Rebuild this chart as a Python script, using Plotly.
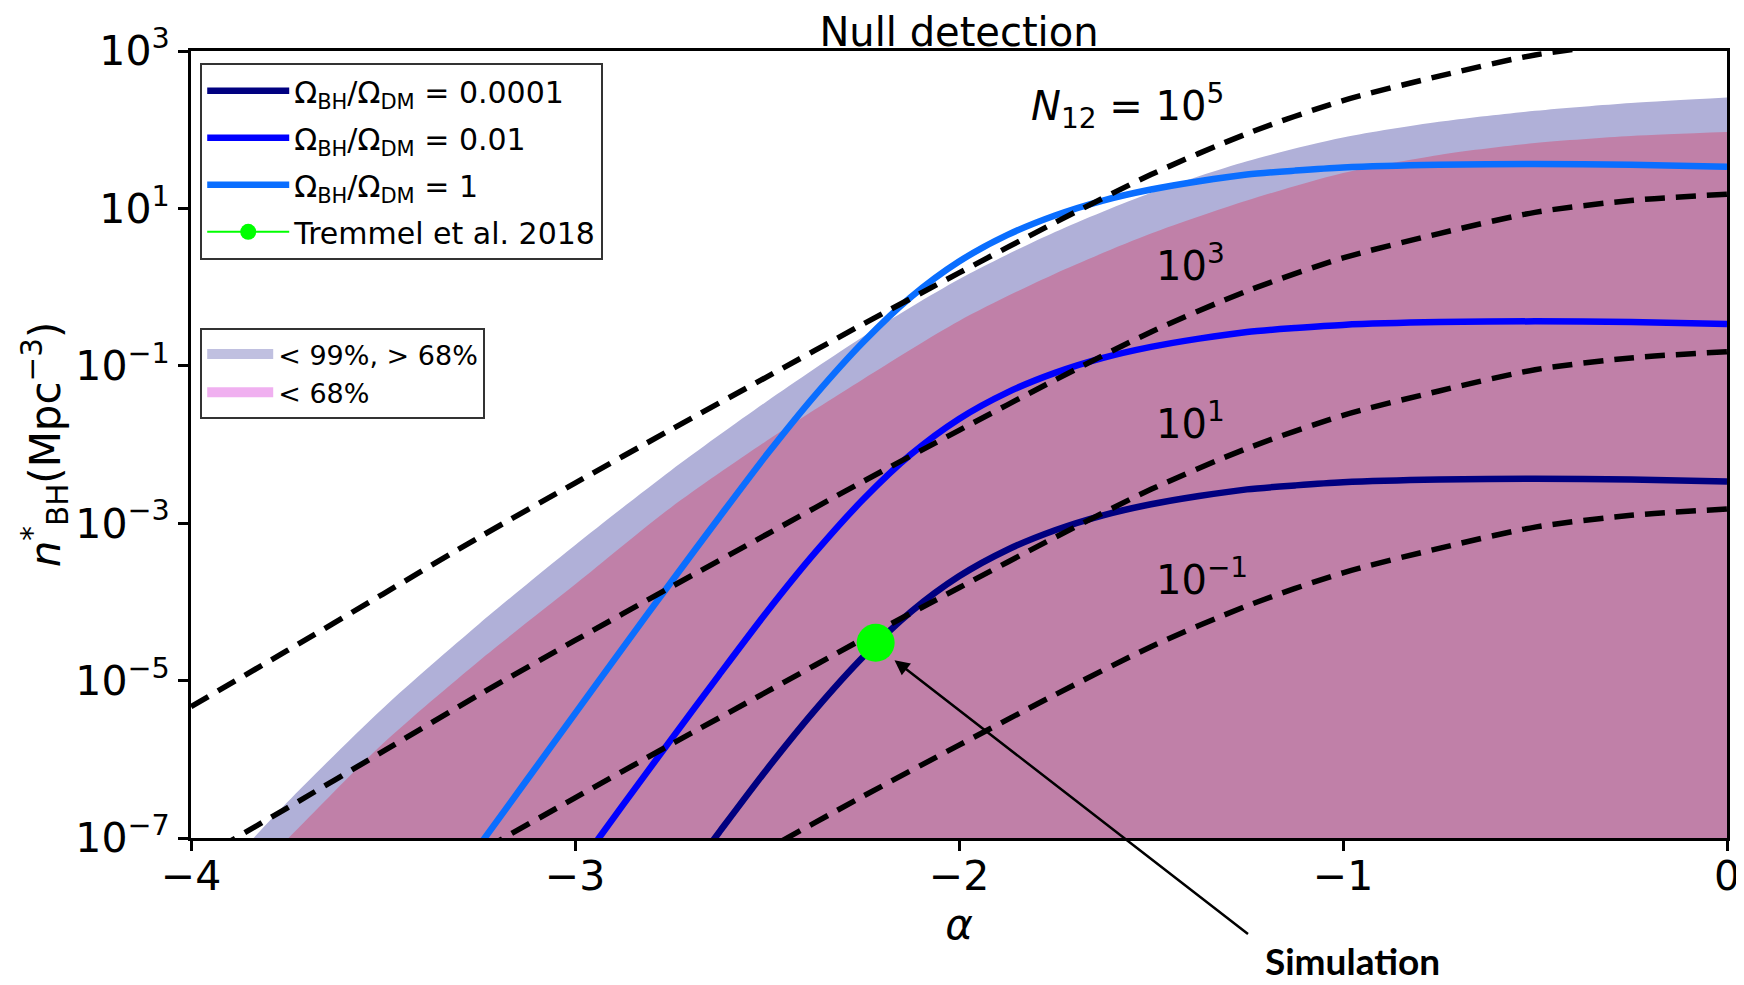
import plotly.graph_objects as go

FONT = "DejaVu Sans"

# ---------------- data (y values are log10 n*_BH) -------------
alpha_grid = [-4.0, -3.75, -3.5, -3.25, -3.0, -2.75, -2.5, -2.25, -2.0, -1.75,
              -1.5, -1.25, -1.0, -0.75, -0.5, -0.25, 0.0]
logn_N1e5 = [-5.33, -4.62, -3.90, -3.18, -2.49, -1.81, -1.14, -0.47, 0.18, 0.82,
             1.43, 1.95, 2.37, 2.68, 2.95, 3.10, 3.18]
logn_N1e3 = [-7.33, -6.62, -5.90, -5.18, -4.49, -3.81, -3.14, -2.47, -1.82, -1.18,
             -0.57, -0.05, 0.37, 0.68, 0.95, 1.10, 1.18]
logn_N1e1 = [-9.33, -8.62, -7.90, -7.18, -6.49, -5.81, -5.14, -4.47, -3.82, -3.18,
             -2.57, -2.05, -1.63, -1.32, -1.05, -0.90, -0.82]
logn_N1em1 = [-11.33, -10.62, -9.90, -9.18, -8.49, -7.81, -7.14, -6.47, -5.82, -5.18,
              -4.57, -4.05, -3.63, -3.32, -3.05, -2.90, -2.82]

alpha_omega = [-3.25, -3.125, -3.0, -2.875, -2.75, -2.625, -2.5, -2.375, -2.25, -2.125,
               -2.0, -1.875, -1.75, -1.625, -1.5, -1.375, -1.25, -1.125, -1.0,
               -0.75, -0.5, -0.25, 0.0]
logn_omega_1 = [-7.1, -6.26, -5.42, -4.58, -3.75, -2.93, -2.125, -1.375, -0.70, -0.125,
                0.325, 0.66, 0.91, 1.10, 1.24, 1.345, 1.43, 1.48, 1.52,
                1.555, 1.565, 1.555, 1.53]
logn_omega_1e2 = [-9.1, -8.26, -7.42, -6.58, -5.75, -4.93, -4.125, -3.375, -2.70, -2.125,
                  -1.675, -1.34, -1.09, -0.90, -0.76, -0.655, -0.57, -0.52, -0.48,
                  -0.445, -0.435, -0.445, -0.47]
logn_omega_1e4 = [-11.1, -10.26, -9.42, -8.58, -7.75, -6.93, -6.125, -5.375, -4.70, -4.125,
                  -3.675, -3.34, -3.09, -2.90, -2.76, -2.655, -2.57, -2.52, -2.48,
                  -2.445, -2.435, -2.445, -2.47]

alpha_band = [-3.95, -3.75, -3.5, -3.25, -3.0, -2.75, -2.5, -2.25, -2.0, -1.75,
              -1.5, -1.25, -1.0, -0.75, -0.5, -0.25, 0.0]
logn_band99 = [-7.6, -6.55, -5.35, -4.28, -3.28, -2.33, -1.45, -0.63, 0.10, 0.70,
               1.20, 1.60, 1.90, 2.10, 2.24, 2.34, 2.41]
logn_band68 = [-8.0, -7.02, -5.80, -4.75, -3.78, -2.80, -1.95, -1.17, -0.43, 0.17,
               0.68, 1.10, 1.45, 1.68, 1.83, 1.92, 1.97]
band_floor_log = -9.0

tremmel_alpha = [-2.217]
tremmel_logn = [-4.52]

label_N_alpha = [-1.56, -1.398, -1.398, -1.368]
label_N_logn = [2.30, 0.30, -1.70, -3.68]
label_N_text = ["<i>N</i><sub>12</sub> = 10<sup>5</sup>", "10<sup>3</sup>",
                "10<sup>1</sup>", "10<sup>−1</sup>"]

ytick_logs = [-7, -5, -3, -1, 1, 3]
ytick_text = ["10<sup>−7</sup>", "10<sup>−5</sup>", "10<sup>−3</sup>",
              "10<sup>−1</sup>", "10<sup>1</sup>", "10<sup>3</sup>"]
xtick_vals = [-4, -3, -2, -1, 0]
xtick_text = ["−4", "−3", "−2", "−1", "0"]

arrow_head = (-2.168, -4.74)

# ---------------- colours ----------------
C_BAND99 = "#b0b0d8"
C_BAND68 = "#c080a8"
C_LEG99 = "#c0c0e0"
C_LEG68 = "#f0b0f0"
C_NAVY = "#000080"
C_BLUE = "#0000ff"
C_LBLUE = "#0a6eff"
C_GREEN = "#00ff00"


def pw(v):
    return [10 ** x for x in v]


fig = go.Figure()

# shaded bands: each filled from an invisible floor line up to its upper edge
for logs, col in [(logn_band99, C_BAND99), (logn_band68, C_BAND68)]:
    fig.add_trace(go.Scatter(x=[alpha_band[0], alpha_band[-1]],
                             y=[10 ** band_floor_log] * 2, mode="lines",
                             line=dict(width=0), showlegend=False, hoverinfo="skip"))
    fig.add_trace(go.Scatter(x=alpha_band, y=pw(logs), mode="lines", fill="tonexty",
                             fillcolor=col,
                             line=dict(width=0, shape="spline", smoothing=0.8),
                             showlegend=False, hoverinfo="skip"))

# Omega curves
for logs, col, name in [(logn_omega_1e4, C_NAVY, "Ω<sub>BH</sub>/Ω<sub>DM</sub> = 0.0001"),
                        (logn_omega_1e2, C_BLUE, "Ω<sub>BH</sub>/Ω<sub>DM</sub> = 0.01"),
                        (logn_omega_1, C_LBLUE, "Ω<sub>BH</sub>/Ω<sub>DM</sub> = 1")]:
    fig.add_trace(go.Scatter(x=alpha_omega, y=pw(logs), mode="lines", name=name,
                             line=dict(color=col, width=6.5, shape="spline", smoothing=0.8),
                             legend="legend", legendgroup=name))

# dashed N12 lines
for logs in [logn_N1e5, logn_N1e3, logn_N1e1, logn_N1em1]:
    fig.add_trace(go.Scatter(x=alpha_grid, y=pw(logs), mode="lines", showlegend=False,
                             line=dict(color="black", width=5.5, dash="20px,11px",
                                       shape="spline", smoothing=0.8),
                             hoverinfo="skip"))

# Tremmel point
fig.add_trace(go.Scatter(x=tremmel_alpha, y=pw(tremmel_logn), mode="lines+markers",
                         name="Tremmel et al. 2018",
                         marker=dict(color=C_GREEN, size=38),
                         line=dict(color=C_GREEN, width=2),
                         legend="legend", legendgroup="tremmel"))

# legend-only swatches for the bands
fig.add_trace(go.Scatter(x=[None], y=[None], mode="lines",
                         line=dict(width=20, color=C_LEG99),
                         name="< 99%, > 68%", legend="legend2", legendgroup="b99"))
fig.add_trace(go.Scatter(x=[None], y=[None], mode="lines",
                         line=dict(width=20, color=C_LEG68),
                         name="< 68%", legend="legend2", legendgroup="b68"))

annotations = []
for ax_, ay_, tx in zip(label_N_alpha, label_N_logn, label_N_text):
    annotations.append(dict(x=ax_, y=ay_, xref="x", yref="y", text=tx, showarrow=False,
                            xanchor="center", yanchor="middle",
                            font=dict(family=FONT, size=40, color="black")))

annotations.append(dict(x=arrow_head[0], y=arrow_head[1], xref="x", yref="y", text="",
                        showarrow=True, arrowhead=2, arrowsize=1.2, arrowwidth=2.5,
                        arrowcolor="black", ax=355, ay=275, axref="pixel", ayref="pixel"))
annotations.append(dict(x=0.7559, y=-0.156, xref="paper", yref="paper",
                        xanchor="center", yanchor="middle",
                        text="<b>Simulation</b>", showarrow=False,
                        font=dict(family="Lato", size=37, color="black")))

# the page body adds an 8 px offset, so the figure is sized 8 px smaller
fig.update_layout(
    width=1736, height=977,
    margin=dict(l=183, r=17, t=43, b=147, autoexpand=False),
    paper_bgcolor="white", plot_bgcolor="white",
    font=dict(family=FONT, color="black"),
    title=dict(text="Null detection", x=0.5, xref="paper", xanchor="center",
               y=1 - 24 / 977, yref="container", yanchor="middle",
               font=dict(family=FONT, size=40, color="black")),
    xaxis=dict(range=[-4, 0], tickvals=xtick_vals, ticktext=xtick_text, automargin=False,
               tickfont=dict(family=FONT, size=41), ticks="outside", ticklen=10,
               tickwidth=2.5, tickcolor="black", showline=True, linecolor="black",
               linewidth=3, mirror=True, showgrid=False, zeroline=False,
               ticklabelstandoff=-10,
               title=dict(text="<i>α</i>", font=dict(family=FONT, size=42), standoff=8)),
    yaxis=dict(type="log", range=[-7, 3], tickvals=pw(ytick_logs), ticktext=ytick_text,
               automargin=False,
               tickfont=dict(family=FONT, size=41), ticks="outside", ticklen=10,
               tickwidth=2.5, tickcolor="black", showline=True, linecolor="black",
               linewidth=3, mirror=True, showgrid=False, zeroline=False,
               title=dict(text="<i>n</i><sup>*</sup><sub>BH</sub>(Mpc<sup>−3</sup>)",
                          font=dict(family=FONT, size=42), standoff=0)),
    legend=dict(x=0.006, y=0.985, xanchor="left", yanchor="top", bgcolor="white",
                bordercolor="#333333", borderwidth=2, font=dict(family=FONT, size=30),
                itemwidth=82, tracegroupgap=5, traceorder="grouped"),
    legend2=dict(x=0.006, y=0.648, xanchor="left", yanchor="top", bgcolor="white",
                 bordercolor="#333333", borderwidth=2, font=dict(family=FONT, size=27),
                 itemwidth=66, tracegroupgap=0, traceorder="normal"),
    annotations=annotations,
    showlegend=True,
)

fig.write_html("out.html")
